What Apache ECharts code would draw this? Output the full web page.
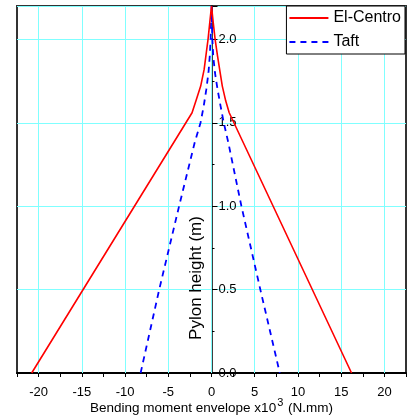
<!DOCTYPE html>
<html>
<head>
<meta charset="utf-8">
<script src="https://cdn.jsdelivr.net/npm/echarts@6/dist/echarts.min.js"></script>
<style>
html,body{margin:0;padding:0;background:#fff;}
#chart{width:408px;height:419px;}
</style>
</head>
<body>
<div id="chart"></div>
<script>
// ---- data (x = bending moment x10^3 N.mm, y = pylon height m) ----
const elCentroX = [-20.8, -2.25, -1.75, -1.25, -0.85, -0.6, -0.4, -0.2, 0, 0.2, 0.42, 0.7, 1.0, 1.25, 1.65, 2.05, 16.2];
const elCentroY = [0, 1.56, 1.64, 1.72, 1.82, 1.92, 2.0, 2.1, 2.2, 2.1, 2.0, 1.9, 1.8, 1.72, 1.63, 1.56, 0];
const taftX = [-8.2, -6.05, -3.75, -1.95, -1.27, -0.9, -0.6, -0.35, -0.2, -0.1, 0, 0.1, 0.2, 0.4, 0.7, 1.05, 1.42, 1.95, 3.46, 5.65, 7.9];
const taftY = [0, 0.5, 1.0, 1.38, 1.5, 1.6, 1.7, 1.8, 1.9, 2.0, 2.2, 2.0, 1.9, 1.8, 1.7, 1.6, 1.5, 1.38, 1.0, 0.5, 0];
const xTickLabels = [-20, -15, -10, -5, 0, 5, 10, 15, 20];
const yTickLabels = ['0.0', '0.5', '1.0', '1.5', '2.0'];
const seriesNames = ['El-Centro', 'Taft'];

const pair = (xs, ys) => xs.map((x, i) => [x, ys[i]]);
const FONT = 'Liberation Sans, Arial, sans-serif';
const GRIDC = '#80ffff';
const GRID_LEFT = 17;

const chart = echarts.init(document.getElementById('chart'), null, {renderer: 'canvas'});
chart.setOption({
  animation: false,
  backgroundColor: '#fff',
  grid: {left: GRID_LEFT, right: 2, top: 6, bottom: 46, containLabel: false, outerBoundsMode: 'none',
    show: true, borderColor: '#333', borderWidth: 2, backgroundColor: 'transparent'},
  legend: {
    data: seriesNames,
    orient: 'vertical',
    right: 3, top: 6,
    itemWidth: 39, itemHeight: 14, itemGap: 8,
    padding: [4, 4, 4, 2],
    backgroundColor: '#fff',
    borderColor: '#000', borderWidth: 1,
    itemStyle: {opacity: 0},
    textStyle: {fontFamily: FONT, fontSize: 16, color: '#000'},
    z: 10
  },
  xAxis: {
    type: 'value', min: -22.5, max: 22.5, interval: 2.5,
    axisLine: {show: true, onZero: false, lineStyle: {color: '#000', width: 2}},
    axisTick: {show: true, length: 4, lineStyle: {color: '#000', width: 1}},
    splitLine: {show: false},
    axisLabel: {
      margin: 13, fontFamily: FONT, fontSize: 13, color: '#000',
      formatter: v => xTickLabels.indexOf(Math.round(v * 100) / 100) >= 0 ? String(v) : ''
    },
    name: '{n|Bending moment envelope x10}{s|3}{n| (N.mm)}',
    nameLocation: 'middle', nameGap: 24, nameMoveOverlap: false,
    nameTextStyle: {
      fontFamily: FONT, color: '#000',
      rich: {
        n: {fontFamily: FONT, fontSize: 13.5, color: '#000', verticalAlign: 'bottom', lineHeight: 18},
        s: {fontFamily: FONT, fontSize: 11, color: '#000', verticalAlign: 'top', lineHeight: 18, padding: [0, 1, 7, 1]}
      }
    }
  },
  yAxis: {
    type: 'value', min: 0, max: 2.2, interval: 0.5,
    axisLine: {show: true, onZero: false, lineStyle: {color: '#000', width: 1.5}},
    axisTick: {show: true, inside: true, length: 6, lineStyle: {color: '#000', width: 1}},
    minorTick: {show: true, splitNumber: 2, length: 3, lineStyle: {color: '#000', width: 1}},
    splitLine: {show: true, lineStyle: {color: GRIDC, width: 1}},
    axisLabel: {
      inside: true, margin: 7, fontFamily: FONT, fontSize: 13, color: '#000',
      showMaxLabel: false,
      formatter: v => { const s = v.toFixed(1); return yTickLabels.indexOf(s) >= 0 ? s : ''; }
    }
  },
  graphic: [{
    type: 'text', x: 196, y: 278, rotation: Math.PI / 2, z: 5,
    style: {text: 'Pylon height (m)', x: 0, y: 0, align: 'center', verticalAlign: 'middle',
      fontFamily: FONT, fontSize: 17, fill: '#000'}
  }],
  series: [
    {
      type: 'scatter', name: 'grid', data: [[0, 0]], symbolSize: 0, silent: true, z: 1,
      markLine: {
        silent: true, symbol: ['none', 'none'], label: {show: false}, z: 1,
        lineStyle: {color: GRIDC, type: 'solid', width: 1},
        emphasis: {disabled: true},
        data: xTickLabels.map(v => ({xAxis: v}))
      }
    },
    {
      type: 'line', name: seriesNames[0], data: pair(elCentroX, elCentroY),
      showSymbol: false, symbol: 'none', z: 4,
      lineStyle: {color: '#ff0000', width: 1.6}, itemStyle: {color: '#ff0000'}
    },
    {
      type: 'line', name: seriesNames[1], data: pair(taftX, taftY),
      showSymbol: false, symbol: 'none', z: 3,
      lineStyle: {color: '#0000ff', width: 1.8, type: [6, 5]}, itemStyle: {color: '#0000ff'}
    }
  ]
});
// place the y axis at x = 0 of the x axis
const zeroPx = chart.convertToPixel({xAxisIndex: 0}, 0);
chart.setOption({yAxis: {offset: GRID_LEFT - zeroPx}});
</script>
</body>
</html>
